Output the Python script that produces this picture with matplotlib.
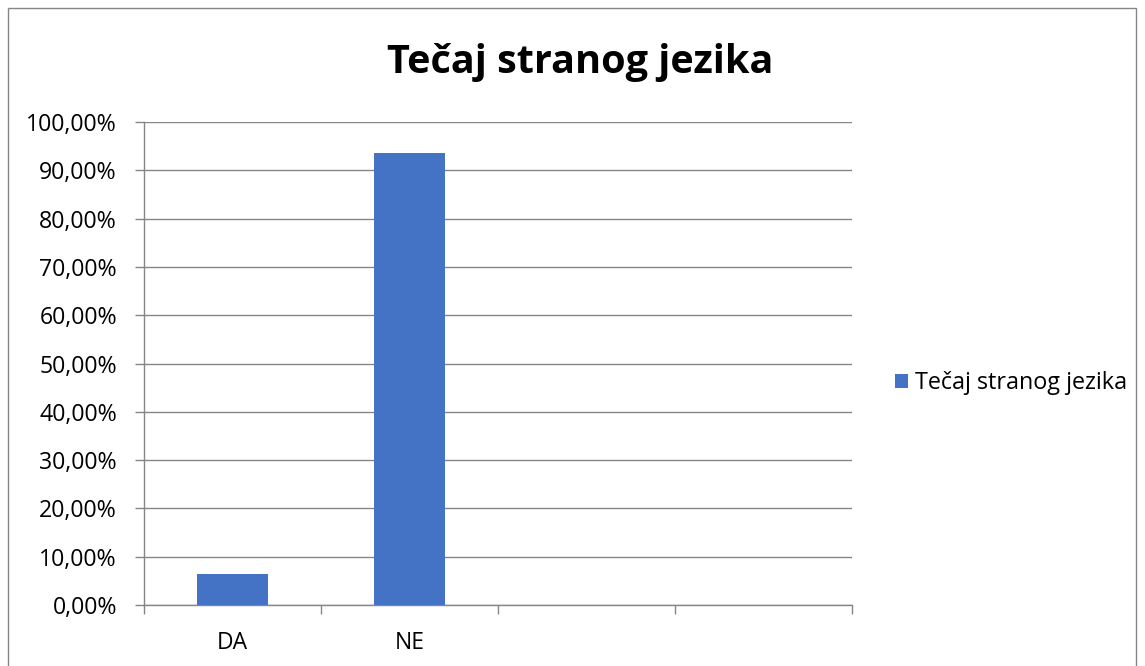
import matplotlib
matplotlib.use("Agg")
import matplotlib.pyplot as plt
from matplotlib.patches import Rectangle
from matplotlib.ticker import FuncFormatter, FixedLocator, NullFormatter

categories = ["DA", "NE", "", ""]
values = [6.5, 93.5, None, None]
series_name = "Tečaj stranog jezika"
title = "Tečaj stranog jezika"

plt.rcParams['font.family'] = ['Open Sans', 'DejaVu Sans']

W, H = 1145, 666
fig = plt.figure(figsize=(W / 100, H / 100), dpi=100)
ax = fig.add_axes([144 / W, 1 - 605 / H, (852 - 144) / W, (605 - 122) / H])

xs = list(range(len(categories)))
bar_x = [x for x, v in zip(xs, values) if v is not None]
bar_v = [v for v in values if v is not None]
ax.bar(bar_x, bar_v, width=0.4, color="#4472C4", label=series_name, zorder=3)

ax.set_xlim(-0.5, len(categories) - 0.5)
ax.set_ylim(0, 100)
ax.set_yticks(range(0, 101, 10))
ax.yaxis.set_major_formatter(FuncFormatter(lambda v, p: f"{v:.2f}".replace(".", ",") + "%"))
ax.grid(axis="y", color="#868686", linewidth=1.0, zorder=0)

# category boundary ticks
ax.xaxis.set_major_locator(FixedLocator([i - 0.5 for i in range(len(categories) + 1)]))
ax.xaxis.set_major_formatter(NullFormatter())
ax.xaxis.set_minor_locator(FixedLocator(xs))
ax.set_xticklabels(categories, minor=True)
ax.tick_params(axis="x", which="major", length=6.5, width=1, color="#868686", direction="out")
ax.tick_params(axis="x", which="minor", length=0, labelsize=16.5, pad=19)
ax.tick_params(axis="y", length=6.5, width=1, color="#868686", labelsize=16.7, pad=13)

for s in ["top", "right"]:
    ax.spines[s].set_visible(False)
for s in ["left", "bottom"]:
    ax.spines[s].set_color("#868686")
    ax.spines[s].set_linewidth(1.0)

fig.text(580 / W, 1 - 63 / H, title, ha="center", va="center", fontsize=28.5, fontweight="bold")

leg = fig.legend(loc="center left", bbox_to_anchor=(895 / W, 1 - 383 / H), frameon=False,
                 fontsize=16.8, handlelength=0.56, handleheight=0.56, handletextpad=0.3,
                 borderpad=0, borderaxespad=0)

fig.patches.append(Rectangle((8 / W, -0.02), (1136 - 8) / W, 1 - 8 / H + 0.02,
                             transform=fig.transFigure, fill=False, edgecolor="#868686", linewidth=1.0))

fig.savefig("out.png", dpi=100)
